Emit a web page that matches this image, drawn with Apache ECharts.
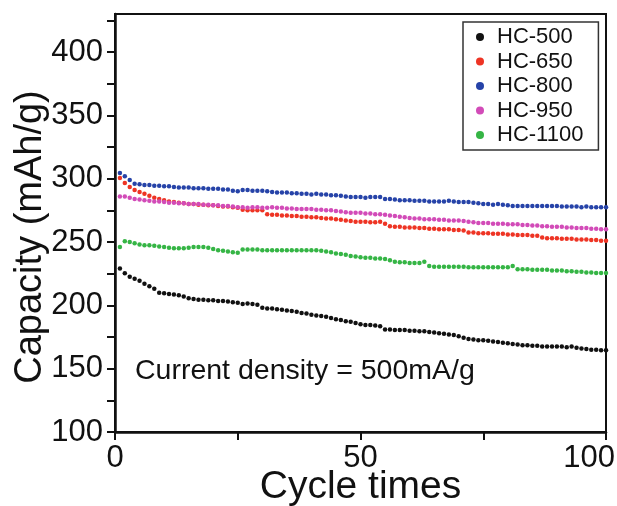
<!DOCTYPE html>
<html lang="en">

<head>
	<meta charset="UTF-8" />
	<script src="https://cdn.jsdelivr.net/npm/echarts@6/dist/echarts.min.js"></script>
	<title>Cycle capacity</title>
	<style>
		html, body { margin: 0; padding: 0; background: #fff; }
		#main { width: 617px; height: 506px; }
	</style>
</head>

<body>
	<div id="main"></div>

	<script type="text/javascript">
		const seriesNames = ['HC-500', 'HC-650', 'HC-800', 'HC-950', 'HC-1100'];
		const seriesColors = ['#111111', '#ee3424', '#2643a8', '#d24bb8', '#35b545'];

		// capacity (mAh/g) for cycles 1..100
		const hc500 = [
			229, 225.3, 222.6, 221, 219.5, 217, 215, 213, 210, 209.5,
			209, 208.5, 208, 207, 205.5, 205, 204.5, 204.5, 204, 204,
			203.5, 203.5, 203, 202.5, 202, 201, 201.5, 201, 200.5, 198,
			197.5, 197.5, 197, 196.5, 196, 195.5, 195, 194, 193.5, 192.5,
			192, 191.5, 191, 190, 189, 188.5, 187.5, 187, 186, 185,
			184.5, 184.5, 184, 183.5, 181, 181, 180.5, 180.5, 180.5, 180,
			180, 179.5, 179.5, 179, 178.5, 178, 177.5, 177, 176.5, 175.5,
			174.5, 173.5, 173, 172.5, 172.5, 172, 171.5, 171, 170.5, 170,
			169.5, 169, 168.5, 168.5, 168, 168, 167.5, 167.5, 167.5, 167.5,
			167.5, 167, 167.5, 166.5, 166, 165.5, 165, 165, 164.5, 164.5,
		];
		const hc650 = [
			300.5, 296.5, 293.5, 291, 289.5, 288, 286.5, 285, 284, 283,
			282, 281.5, 281, 280.5, 280, 280, 279.5, 279.5, 279, 279,
			278.5, 278, 278, 277.5, 277, 275.5, 275, 275, 275, 275,
			272, 271.5, 271.5, 271, 271, 270.5, 270.5, 270, 270, 269.5,
			269.5, 269, 268.5, 268.5, 268, 267.5, 267, 266.5, 266, 266,
			266, 265.5, 265.5, 266, 264.5, 262.5, 262, 262, 261.5, 261.5,
			261.5, 261, 261, 260.5, 260.5, 260, 260, 260, 259.5, 259.5,
			259, 257.5, 257.5, 257, 257, 257, 256.5, 256.5, 256.5, 256,
			256, 255.5, 255.5, 255.5, 255, 255, 253.5, 253, 253, 253,
			252.5, 252.5, 252.5, 252, 252, 252, 251.5, 251.5, 251, 251,
		];
		const hc800 = [
			304.5, 302, 299, 296, 295.5, 295, 295, 294.5, 294.5, 294,
			294, 293.5, 293, 293, 293, 292.5, 292.5, 292.5, 292, 292,
			292, 291.5, 291.5, 290.5, 290, 291, 291, 290.5, 290.5, 290.5,
			290, 289.5, 289, 289, 289, 288.5, 288.5, 288, 288, 287.5,
			288, 287.5, 287.5, 287, 287, 286.5, 286, 285.5, 285.5, 285.5,
			285, 285.5, 285.5, 285.5, 284, 284, 283.5, 283, 283, 283,
			282.5, 282.5, 282.5, 282, 282, 282, 282, 282.5, 282, 281.5,
			281.5, 281.5, 281, 280.5, 280, 280, 279.5, 280, 279.5, 279,
			278.5, 278.5, 278.5, 278.5, 278.5, 278.5, 278.5, 278.5, 278.5, 278.5,
			278, 278, 278, 278, 277.5, 278, 277.5, 277.5, 277.5, 277.5,
		];
		const hc950 = [
			286, 286, 285, 284, 283.5, 283, 282.5, 282, 282, 281.5,
			281, 281, 280.5, 280.5, 280, 280, 280, 279.5, 279.5, 279,
			279, 278.5, 278.5, 278, 277.5, 277.5, 277, 277.5, 277.5, 277,
			277, 277.5, 277, 277, 276.5, 276.5, 276, 276, 276, 276,
			275.5, 275.5, 275, 275, 274.5, 274, 273.5, 273, 273, 273,
			272.5, 272.5, 272, 272, 271.5, 271, 270.5, 270, 269.5, 269,
			268.5, 268.5, 268, 268, 268, 267.5, 267.5, 267, 267, 267,
			266.5, 266, 265.5, 265, 265, 265, 264.5, 264.5, 264.5, 264,
			264, 264, 263.5, 263.5, 263, 263, 262.5, 262.5, 262, 262,
			262, 261.5, 261.5, 261, 261, 261, 260.5, 260.5, 260, 260,
		];
		const hc1100 = [
			246, 250.5, 250, 249, 248, 247.5, 247.5, 247, 246.5, 246,
			245.5, 245, 245, 245, 245.5, 246, 246, 246, 245.5, 244.5,
			243.5, 243, 242.5, 242, 241.5, 244, 244, 244, 244, 243.5,
			243.5, 243.5, 243.5, 243.5, 243.5, 243.5, 243.5, 243.5, 243.5, 243.5,
			243.5, 243, 242.5, 242, 241, 240.5, 240, 239, 238.5, 238,
			237.5, 237.5, 237, 237, 236.5, 235.5, 234.5, 234, 234, 233.5,
			233.5, 233.5, 234.5, 231, 230.5, 230.5, 230.5, 230.5, 230.5, 230.5,
			230.5, 230, 230, 230, 230, 230, 230, 230, 230, 230,
			231, 228.5, 228.5, 228.5, 228, 228, 228, 228, 227.5, 227.5,
			227.5, 227, 227, 226.5, 226.5, 226, 226, 225.5, 225.5, 225.5,
		];
		const allValues = [hc500, hc650, hc800, hc950, hc1100];

		const xTicks = [0, 50, 100];
		const yTicks = [100, 150, 200, 250, 300, 350, 400];
		const noteText = 'Current density = 500mA/g';

		const font = '"Liberation Sans", Arial, Helvetica, sans-serif';

		const mainChart = echarts.init(document.getElementById('main'), null, { renderer: 'canvas' });

		const series = seriesNames.map((name, i) => ({
			name,
			type: 'scatter',
			symbol: 'circle',
			symbolSize: 4.5,
			itemStyle: { color: seriesColors[i], opacity: 1 },
			data: allValues[i].map((v, k) => [k + 1, v]),
		}));

		const option = {
			animation: false,
			backgroundColor: '#fff',
			textStyle: { fontFamily: font },
			title: {
				text: noteText,
				left: 130,
				top: 352,
				textStyle: { fontFamily: font, fontSize: 28.5, fontWeight: 'normal', color: '#111' },
			},
			legend: {
				orient: 'vertical',
				left: 463,
				top: 22,
				padding: [4, 15, 4, 13],
				itemGap: 2.5,
				itemWidth: 24,
				itemHeight: 8,
				icon: 'circle',
				borderColor: '#333',
				borderWidth: 1.5,
				data: seriesNames,
				textStyle: { fontFamily: font, fontSize: 22, lineHeight: 22, color: '#111' },
			},
			grid: {
				left: 115,
				right: 11,
				top: 14,
				bottom: 74,
				containLabel: false,
				outerBoundsMode: 'none',
				show: true,
				borderColor: '#111',
				borderWidth: 2,
			},
			xAxis: {
				type: 'value',
				min: 0,
				max: 100,
				interval: 25,
				name: 'Cycle times',
				nameLocation: 'middle',
				nameGap: 36,
				nameMoveOverlap: false,
				nameTextStyle: { fontFamily: font, fontSize: 39, color: '#111' },
				splitLine: { show: false },
				axisLine: { lineStyle: { color: '#111', width: 2.5 } },
				axisTick: { inside: false, length: 8, lineStyle: { color: '#111', width: 2 } },
				axisLabel: {
					margin: 11,
					fontFamily: font,
					fontSize: 31,
					color: '#111',
					alignMaxLabel: 'right',
					formatter: v => (v === 100 ? '{e|100}' : (xTicks.includes(v) ? String(v) : '')),
					rich: {
						e: { padding: [0, -9, 0, 0], fontFamily: font, fontSize: 31, color: '#111' },
					},
				},
			},
			yAxis: {
				type: 'value',
				min: 100,
				max: 430,
				interval: 25,
				name: 'Capacity (mAh/g)',
				nameLocation: 'middle',
				nameGap: 65,
				nameMoveOverlap: false,
				nameTextStyle: { fontFamily: font, fontSize: 38, color: '#111', padding: [0, 28, 0, 0] },
				splitLine: { show: false },
				axisLine: { lineStyle: { color: '#111', width: 2.5 } },
				axisTick: { inside: false, length: 8, lineStyle: { color: '#111', width: 2 } },
				axisLabel: {
					margin: 12,
					fontFamily: font,
					fontSize: 31,
					color: '#111',
					showMaxLabel: false,
					formatter: v => (yTicks.includes(v) ? String(v) : ''),
				},
			},
			series,
		};
		mainChart.setOption(option);
	</script>
</body>

</html>
